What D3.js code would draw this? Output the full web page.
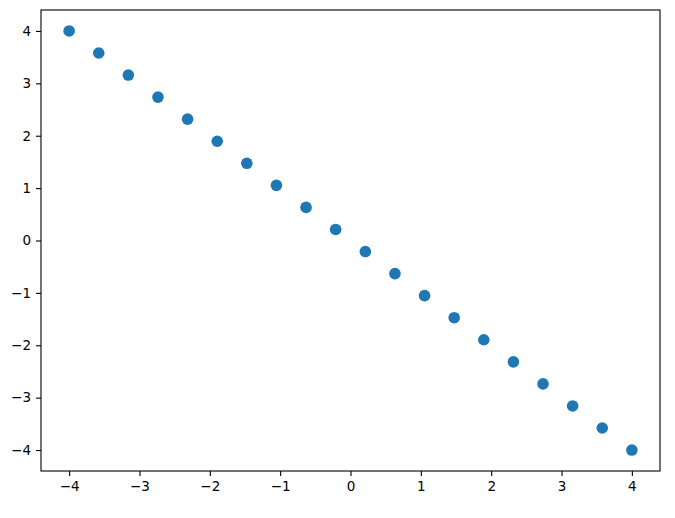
<!DOCTYPE html>
<html>
<head>
<meta charset="utf-8">
<script src="https://cdn.jsdelivr.net/npm/d3@7"></script>
<style>
  body { margin: 0; background: #fff; }
  text { font-family: "DejaVu Sans", sans-serif; }
</style>
</head>
<body>
<svg id="chart" width="675" height="518"></svg>
<script>
// values
var xValues = [-4.000, -3.579, -3.158, -2.737, -2.316, -1.895, -1.474, -1.053, -0.632, -0.211,
               0.211, 0.632, 1.053, 1.474, 1.895, 2.316, 2.737, 3.158, 3.579, 4.000];
var yValues = [4.000, 3.579, 3.158, 2.737, 2.316, 1.895, 1.474, 1.053, 0.632, 0.211,
               -0.211, -0.632, -1.053, -1.474, -1.895, -2.316, -2.737, -3.158, -3.579, -4.000];
var xTicks = [-4, -3, -2, -1, 0, 1, 2, 3, 4];
var yTicks = [-4, -3, -2, -1, 0, 1, 2, 3, 4];

var svg = d3.select('#chart');
var margin = {left: 41, top: 10, right: 15, bottom: 47};
var width = 675 - margin.left - margin.right;
var height = 518 - margin.top - margin.bottom;

var x = d3.scaleLinear().domain([-4.4, 4.4]).range([0, width]);
var y = d3.scaleLinear().domain([-4.4, 4.4]).range([height, 0]);

var g = svg.append('g').attr('transform', 'translate(' + margin.left + ',' + margin.top + ')');

var minus = function(d) { return d < 0 ? '\u2212' + Math.abs(d) : String(d); };

var xAxis = g.append('g')
  .attr('transform', 'translate(0,' + height + ')')
  .call(d3.axisBottom(x).tickValues(xTicks).tickFormat(minus).tickSize(5).tickPadding(5));

var yAxis = g.append('g')
  .call(d3.axisLeft(y).tickValues(yTicks).tickFormat(minus).tickSize(5).tickPadding(5));

[xAxis, yAxis].forEach(function(a) {
  a.select('.domain').remove();
  a.selectAll('line').attr('stroke', '#000').attr('stroke-width', 1.1);
  a.selectAll('text').attr('fill', '#000').style('font-size', '13.5px').style('font-family', '"DejaVu Sans", sans-serif');
});

// frame
g.append('rect')
  .attr('x', 0).attr('y', 0)
  .attr('width', width).attr('height', height)
  .attr('fill', 'none')
  .attr('stroke', '#000')
  .attr('stroke-width', 1.1);

var points = xValues.map(function(v, i) { return {x: v, y: yValues[i]}; });

g.selectAll('circle.pt')
  .data(points)
  .enter().append('circle')
  .attr('class', 'pt')
  .attr('cx', function(d) { return x(d.x); })
  .attr('cy', function(d) { return y(d.y); })
  .attr('r', 5.8)
  .attr('fill', '#1f77b4');
</script>
</body>
</html>
